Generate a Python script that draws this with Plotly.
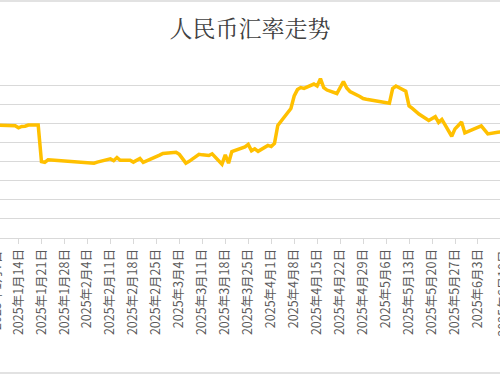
import plotly.graph_objects as go

# Data (y values on an estimated scale)
dates = [
    "2025-01-06", "2025-01-08", "2025-01-09", "2025-01-10", "2025-01-13", "2025-01-14",
    "2025-01-15", "2025-01-16", "2025-01-17", "2025-01-20", "2025-01-21", "2025-01-22",
    "2025-01-23", "2025-01-24", "2025-02-05", "2025-02-06", "2025-02-07", "2025-02-10",
    "2025-02-11", "2025-02-12", "2025-02-13", "2025-02-14", "2025-02-17", "2025-02-18",
    "2025-02-19", "2025-02-20", "2025-02-21", "2025-02-24", "2025-02-25", "2025-02-26",
    "2025-02-27", "2025-02-28", "2025-03-03", "2025-03-04", "2025-03-05", "2025-03-06",
    "2025-03-07", "2025-03-10", "2025-03-11", "2025-03-12", "2025-03-13", "2025-03-14",
    "2025-03-17", "2025-03-18", "2025-03-19", "2025-03-20", "2025-03-21", "2025-03-24",
    "2025-03-25", "2025-03-26", "2025-03-27", "2025-03-28", "2025-03-31", "2025-04-01",
    "2025-04-02", "2025-04-03", "2025-04-07", "2025-04-08", "2025-04-09", "2025-04-10",
    "2025-04-11", "2025-04-14", "2025-04-15", "2025-04-16", "2025-04-17", "2025-04-18",
    "2025-04-21", "2025-04-22", "2025-04-23", "2025-04-24", "2025-04-25", "2025-04-28",
    "2025-04-29", "2025-04-30", "2025-05-06", "2025-05-07", "2025-05-08", "2025-05-09",
    "2025-05-12", "2025-05-13", "2025-05-14", "2025-05-15", "2025-05-16", "2025-05-19",
    "2025-05-20", "2025-05-21", "2025-05-22", "2025-05-23", "2025-05-26", "2025-05-27",
    "2025-05-28", "2025-05-29", "2025-05-30", "2025-06-03", "2025-06-04", "2025-06-05",
    "2025-06-06", "2025-06-09", "2025-06-10",
]
rates = [
    7.2783, 7.2783, 7.2781, 7.2779, 7.2775, 7.2754,
    7.2768, 7.2770, 7.2783, 7.2783, 7.2400, 7.2392,
    7.2418, 7.2415, 7.2384, 7.2383, 7.2394, 7.2418,
    7.2428, 7.2409, 7.2442, 7.2413, 7.2413, 7.2394,
    7.2413, 7.2433, 7.2392, 7.2433, 7.2449, 7.2467,
    7.2485, 7.2488, 7.2498, 7.2475, 7.2428, 7.2383,
    7.2402, 7.2475, 7.2470, 7.2465, 7.2463, 7.2481,
    7.2373, 7.2470, 7.2383, 7.2504, 7.2517, 7.2554,
    7.2580, 7.2512, 7.2533, 7.2507, 7.2569, 7.2557,
    7.2590, 7.2778, 7.2956, 7.3087, 7.3154, 7.3175,
    7.3167, 7.3212, 7.3191, 7.3269, 7.3175, 7.3149,
    7.3113, 7.3181, 7.3238, 7.3170, 7.3134, 7.3081,
    7.3060, 7.3052, 7.3015, 7.3010, 7.3165, 7.3191,
    7.3136, 7.2982, 7.2956, 7.2925, 7.2898, 7.2831,
    7.2846, 7.2870, 7.2810, 7.2841, 7.2665, 7.2742,
    7.2778, 7.2815, 7.2700, 7.2763, 7.2773, 7.2731,
    7.2689, 7.2707, 7.2710,
]

tick_dates = [
    "2025-01-14", "2025-01-21", "2025-01-28", "2025-02-04", "2025-02-11", "2025-02-18",
    "2025-02-25", "2025-03-04", "2025-03-11", "2025-03-18", "2025-03-25", "2025-04-01",
    "2025-04-08", "2025-04-15", "2025-04-22", "2025-04-29", "2025-05-06", "2025-05-13",
    "2025-05-20", "2025-05-27", "2025-06-03",
]
tick_labels = [
    "2025年1月14日", "2025年1月21日", "2025年1月28日", "2025年2月4日", "2025年2月11日",
    "2025年2月18日", "2025年2月25日", "2025年3月4日", "2025年3月11日", "2025年3月18日",
    "2025年3月25日", "2025年4月1日", "2025年4月8日", "2025年4月15日", "2025年4月22日",
    "2025年4月29日", "2025年5月6日", "2025年5月13日", "2025年5月20日", "2025年5月27日",
    "2025年6月3日",
]
edge_labels = ["2025年1月7日", "2025年6月10日"]

title_text = "人民币汇率走势"

GRID = "#D9D9D9"
TEXT = "#595959"
FONT = "Noto Sans CJK SC, Noto Sans, sans-serif"
TICK_SIZE = 12.5

fig = go.Figure()
fig.add_trace(go.Scatter(
    x=dates, y=rates, mode="lines",
    line=dict(color="#FFC000", width=3.5),
    hoverinfo="skip", showlegend=False,
))

fig.update_layout(
    template="none",
    width=500, height=375,
    margin=dict(l=0, r=0, t=66, b=137, pad=0, autoexpand=False),
    paper_bgcolor="white", plot_bgcolor="white",
    title=dict(
        text=title_text, x=0.5, xanchor="center", xref="paper",
        y=1 - 28.5 / 375, yref="container", yanchor="middle",
        font=dict(family="Noto Serif CJK SC, " + FONT, size=23, color="#404040"),
        automargin=False,
    ),
    xaxis=dict(
        type="date",
        range=["2025-01-08 08:42", "2025-06-09 17:02"],
        tickvals=tick_dates, ticktext=tick_labels,
        tickangle=-90,
        tickfont=dict(family=FONT, size=TICK_SIZE, color=TEXT),
        ticks="outside", ticklen=5, tickcolor=GRID, tickwidth=1,
        showline=True, linecolor=GRID, linewidth=1,
        showgrid=False, zeroline=False, automargin=False,
    ),
    yaxis=dict(
        range=[7.1599, 7.3401], dtick=0.02, tick0=7.16,
        showgrid=True, gridcolor=GRID, gridwidth=1,
        showticklabels=False, ticks="", zeroline=False, showline=False,
        automargin=False,
    ),
    shapes=[
        dict(type="line", xref="paper", yref="paper", x0=-0.1, x1=1.1,
             y0=1 + 65 / 172, y1=1 + 65 / 172, line=dict(color=GRID, width=1.5)),
        dict(type="line", xref="paper", yref="paper", x0=-0.1, x1=1.1,
             y0=-135 / 172, y1=-135 / 172, line=dict(color=GRID, width=1.5)),
    ],
    annotations=[
        dict(text=edge_labels[0], xref="paper", yref="paper", x=-4.6 / 500, y=-11 / 172,
             xanchor="center", yanchor="top", textangle=-90, showarrow=False,
             font=dict(family=FONT, size=TICK_SIZE, color=TEXT)),
        dict(text=edge_labels[1], xref="paper", yref="paper", x=501.6 / 500, y=-11 / 172,
             xanchor="center", yanchor="top", textangle=-90, showarrow=False,
             font=dict(family=FONT, size=TICK_SIZE, color=TEXT)),
    ],
)

fig.write_html(
    "out.html",
    config={"displayModeBar": False, "staticPlot": True},
    post_script="document.body.style.margin='0';document.body.style.overflow='hidden';",
)
